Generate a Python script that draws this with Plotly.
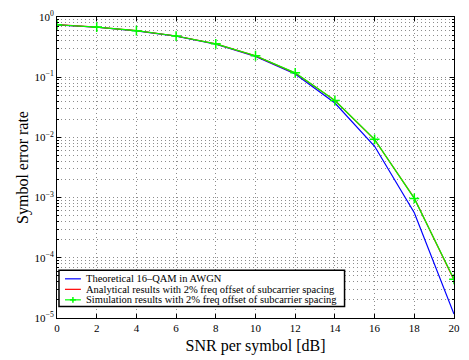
import plotly.graph_objects as go

snr = [0, 2, 4, 6, 8, 10, 12, 14, 16, 18, 20]
theory = [0.741, 0.676, 0.589, 0.480, 0.353, 0.222, 0.113, 0.0373, 0.00712, 0.00056, 1.16e-5]
analytic = [0.745, 0.680, 0.592, 0.484, 0.357, 0.226, 0.117, 0.041, 0.0092, 0.00098, 4.3e-5]
simul = [0.744, 0.681, 0.593, 0.483, 0.358, 0.227, 0.118, 0.041, 0.0093, 0.00097, 4.4e-5]

names = ["Theoretical 16\u2013QAM in AWGN",
         "Analytical results with 2% freq offset of subcarrier spacing",
         "Simulation results with 2% freq offset of subcarrier spacing"]
colors = ["#0000ff", "#ff0000", "#00ff00"]

y_tickvals = [1e-5, 1e-4, 1e-3, 1e-2, 1e-1, 1]
y_ticktext = ["10<sup>\u22125</sup>", "10<sup>\u22124</sup>", "10<sup>\u22123</sup>",
              "10<sup>\u22122</sup>", "10<sup>\u22121</sup>", "10<sup>0</sup>"]

font = "Liberation Serif, Times New Roman, serif"
W, H = 469, 360
ml, mr, mt, mb = 57, 13, 9, 36
pw, ph = W - ml - mr, H - mt - mb

def px2x(px):
    return (px - ml) / pw

def px2y(py):
    return (H - mb - py) / ph

fig = go.Figure()
for yv, nm, c in zip([theory, analytic], names[:2], colors[:2]):
    fig.add_trace(go.Scatter(x=snr, y=yv, mode="lines", name=nm, showlegend=False,
                             line=dict(color=c, width=1.2)))
fig.add_trace(go.Scatter(x=snr, y=simul, mode="lines+markers", name=names[2], showlegend=False,
                         line=dict(color=colors[2], width=1.2),
                         marker=dict(symbol="cross-thin", size=7,
                                     line=dict(color=colors[2], width=1.5))))

# manual compact legend (styled like the reference)
shapes = [dict(type="rect", xref="paper", yref="paper",
               x0=px2x(59), x1=px2x(346), y0=px2y(312), y1=px2y(274),
               line=dict(color="black", width=1.5), fillcolor="white", layer="above")]
annotations = []
rows = [283, 294, 305]
for i, (nm, c) in enumerate(zip(names, colors)):
    yy = px2y(rows[i])
    shapes.append(dict(type="line", xref="paper", yref="paper",
                       x0=px2x(65), x1=px2x(81), y0=yy, y1=yy,
                       line=dict(color=c, width=1.2), layer="above"))
    annotations.append(dict(xref="paper", yref="paper", x=px2x(84), y=yy,
                            text=nm, showarrow=False, xanchor="left", yanchor="middle",
                            font=dict(size=10.5, family=font, color="black")))
yy = px2y(rows[2])
shapes.append(dict(type="line", xref="paper", yref="paper",
                   x0=px2x(70), x1=px2x(76), y0=yy, y1=yy,
                   line=dict(color=colors[2], width=1.5), layer="above"))
shapes.append(dict(type="line", xref="paper", yref="paper",
                   x0=px2x(73), x1=px2x(73), y0=px2y(rows[2] - 3), y1=px2y(rows[2] + 3),
                   line=dict(color=colors[2], width=1.5), layer="above"))

fig.update_layout(
    width=W, height=H,
    margin=dict(l=ml, r=mr, t=mt, b=mb),
    paper_bgcolor="white", plot_bgcolor="white",
    font=dict(family=font, color="black", size=11),
    showlegend=False,
    shapes=shapes, annotations=annotations,
)
grid = dict(showgrid=True, gridcolor="#8c8c8c", griddash="1px,3px", gridwidth=1)
fig.update_xaxes(range=[0, 20], dtick=2, tick0=0,
                 showline=True, linecolor="black", linewidth=1, mirror="ticks",
                 ticks="inside", ticklen=4, tickcolor="black",
                 zeroline=False, **grid,
                 title=dict(text="SNR per symbol [dB]", font=dict(size=16, family=font), standoff=6),
                 tickfont=dict(size=11, family=font))
fig.update_yaxes(type="log", range=[-5, 0], tickvals=y_tickvals, ticktext=y_ticktext,
                 showline=True, linecolor="black", linewidth=1, mirror="ticks",
                 ticks="inside", ticklen=4, tickcolor="black",
                 zeroline=False, **grid,
                 minor=dict(showgrid=True, gridcolor="#8c8c8c", griddash="1px,3px",
                            ticks="inside", ticklen=2, tickcolor="black",
                            tickvals=[m * 10 ** e for e in range(-5, 0) for m in range(2, 10)]),
                 title=dict(text="Symbol error rate", font=dict(size=16, family=font), standoff=2),
                 tickfont=dict(size=11, family=font))

fig.write_html("out.html")
